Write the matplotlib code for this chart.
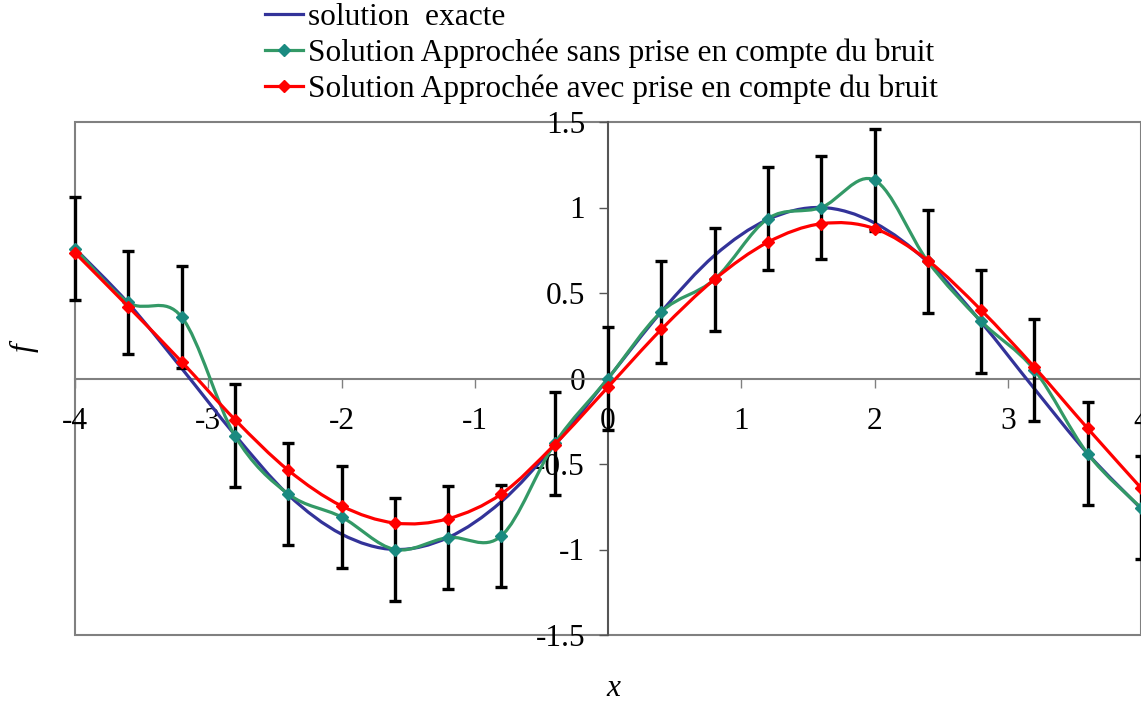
import numpy as np
import matplotlib
matplotlib.use("Agg")
import matplotlib.pyplot as plt
from matplotlib.path import Path
from matplotlib.patches import PathPatch, Rectangle
from matplotlib.lines import Line2D

plt.rcParams['font.family'] = ['Liberation Serif', 'DejaVu Serif']
plt.rcParams['axes.unicode_minus'] = False

# data
x_pts = [-4.0, -3.6, -3.2, -2.8, -2.4, -2.0, -1.6, -1.2, -0.8, -0.4, 0.0,
         0.4, 0.8, 1.2, 1.6, 2.0, 2.4, 2.8, 3.2, 3.6, 4.0]
exacte = [0.76, 0.44, 0.06, -0.33, -0.68, -0.91, -1.00, -0.93, -0.72, -0.39, 0.00,
          0.39, 0.72, 0.93, 1.00, 0.91, 0.68, 0.33, -0.06, -0.44, -0.76]
sans_bruit = [0.76, 0.445, 0.36, -0.335, -0.675, -0.81, -1.00, -0.93, -0.92, -0.38, 0.00,
              0.39, 0.58, 0.935, 1.00, 1.16, 0.685, 0.335, 0.05, -0.44, -0.756]
avec_bruit = [0.735, 0.42, 0.098, -0.24, -0.536, -0.745, -0.845, -0.82, -0.675, -0.386, -0.05,
              0.287, 0.58, 0.797, 0.905, 0.877, 0.69, 0.40, 0.066, -0.292, -0.64]
err = 0.3

x_ticks = [-4, -3, -2, -1, 0, 1, 2, 3, 4]
y_ticks = [-1.5, -1, -0.5, 0, 0.5, 1, 1.5]
y_ticklabels = ['-1.5', '-1', '-0.5', '0', '0.5', '1', '1.5']

labels = ['solution  exacte',
          'Solution Approchée sans prise en compte du bruit',
          'Solution Approchée avec prise en compte du bruit']

blue = '#333399'
green = '#339966'
green_mk = '#1a8a80'
red = '#ff0000'
fs = 22.6


def smooth_path(xs, ys):
    # excel-like smoothed line (catmull-rom as cubic bezier)
    pts = np.column_stack([xs, ys])
    n = len(pts)
    verts = [pts[0]]
    codes = [Path.MOVETO]
    for i in range(n - 1):
        p0 = pts[max(i - 1, 0)]
        p1 = pts[i]
        p2 = pts[i + 1]
        p3 = pts[min(i + 2, n - 1)]
        verts += [p1 + (p2 - p0) / 6, p2 - (p3 - p1) / 6, p2]
        codes += [Path.CURVE4] * 3
    return Path(verts, codes)


fig = plt.figure(figsize=(11.41, 7.04), dpi=100)
ax = fig.add_axes([75 / 1141, 69 / 704, 1066 / 1141, 513 / 704])
ax.set_xlim(-4, 4)
ax.set_ylim(-1.5, 1.5)

# plot area border
ax.add_patch(Rectangle((0, 0), 1, 1, transform=ax.transAxes, fill=False,
                       edgecolor='#808080', lw=1.5, clip_on=False, zorder=1))

for side in ['top', 'right']:
    ax.spines[side].set_visible(False)
ax.spines['left'].set_position(('data', 0))
ax.spines['bottom'].set_position(('data', 0))
ax.spines['left'].set_color('#555555')
ax.spines['bottom'].set_color('#808080')
ax.spines['left'].set_linewidth(1.5)
ax.spines['bottom'].set_linewidth(1.5)

ax.set_xticks(x_ticks)
ax.set_xticklabels([str(v) for v in x_ticks])
ax.set_yticks(y_ticks)
ax.set_yticklabels(y_ticklabels)
ax.tick_params(axis='x', direction='out', length=6.5, width=1, colors='#808080',
               labelcolor='black', labelsize=fs, pad=14)
ax.tick_params(axis='y', direction='out', length=6.5, width=1, colors='#555555',
               labelcolor='black', labelsize=fs, pad=10)

ax.add_patch(PathPatch(smooth_path(x_pts, exacte), facecolor='none',
                       edgecolor=blue, lw=2.3, zorder=3, clip_on=False))

ax.errorbar(x_pts, sans_bruit, yerr=err, fmt='none', ecolor='black',
            elinewidth=2.4, capsize=4.6, capthick=2.4, zorder=4, clip_on=False)

ax.add_patch(PathPatch(smooth_path(x_pts, sans_bruit), facecolor='none',
                       edgecolor=green, lw=2.3, zorder=5, clip_on=False))
ax.plot(x_pts, sans_bruit, 'D', color=green_mk, markersize=6.3, zorder=6, clip_on=False)

ax.add_patch(PathPatch(smooth_path(x_pts, avec_bruit), facecolor='none',
                       edgecolor=red, lw=2.3, zorder=7, clip_on=False))
ax.plot(x_pts, avec_bruit, 'D', color=red, markersize=6.3, zorder=8, clip_on=False)

handles = [Line2D([], [], color=blue, lw=2.3),
           Line2D([], [], color=green, lw=2.3, marker='D', markersize=6.3,
                  markerfacecolor=green_mk, markeredgecolor=green_mk),
           Line2D([], [], color=red, lw=2.3, marker='D', markersize=6.3)]
fig.legend(handles, labels, loc='upper left', bbox_to_anchor=(262 / 1141, 1.0),
           frameon=False, fontsize=fs, handlelength=1.2, handletextpad=0.18,
           labelspacing=0.2, borderpad=0, borderaxespad=0.1, numpoints=1)

fig.text(24 / 1141, 1 - 348 / 704, 'f', rotation=90, style='italic', fontsize=fs,
         ha='center', va='center')
fig.text(613 / 1141, 1 - 688 / 704, 'x', style='italic', fontsize=fs,
         ha='center', va='center')

fig.savefig('out.png', dpi=100)
